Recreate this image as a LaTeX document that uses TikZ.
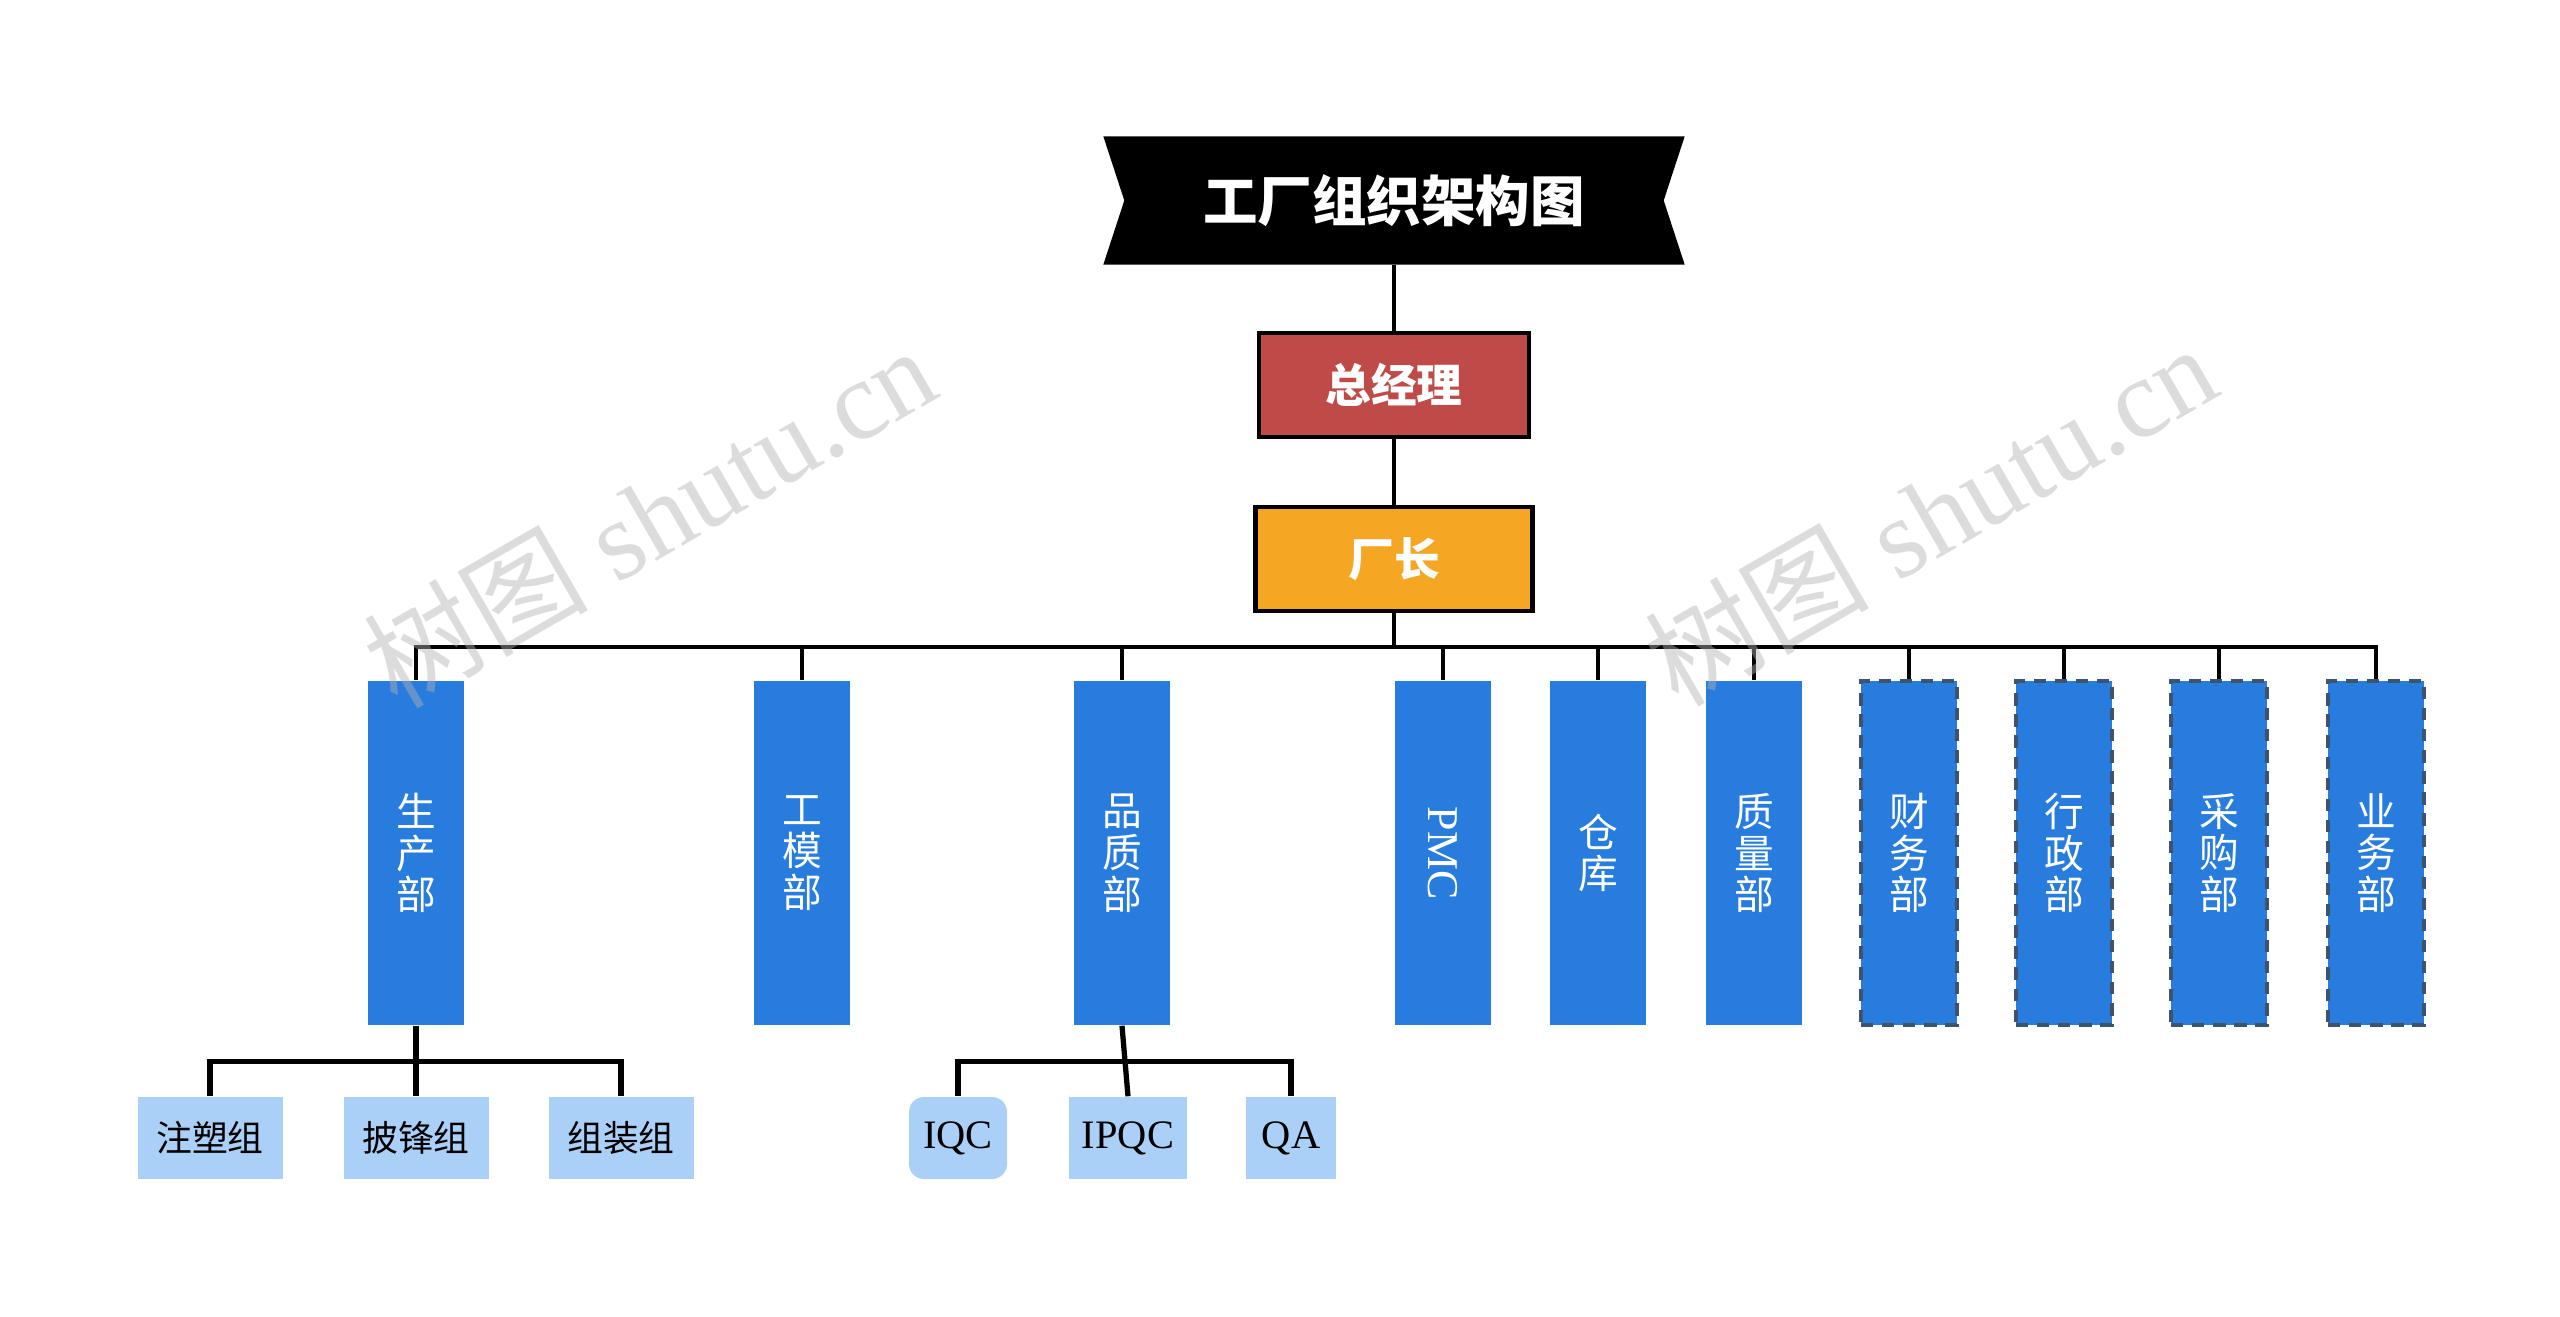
\documentclass[tikz,border=0pt]{standalone}
\usepackage{fontspec}
\usepackage{xcolor}
\usepackage{graphicx}
\usepackage{tikz}
\setmainfont{Liberation Serif}
\newfontfamily\cjk{Noto Sans CJK SC}
\usetikzlibrary{positioning,calc,backgrounds}
\definecolor{deptblue}{RGB}{40,124,222}
\definecolor{subblue}{RGB}{171,208,248}
\definecolor{gmred}{RGB}{190,75,72}
\definecolor{fmorange}{RGB}{245,167,35}
\definecolor{dashgray}{RGB}{62,84,110}

\begin{document}
\begin{tikzpicture}[
  line/.style={line width=1.2pt},
  subline/.style={line width=1.5pt},
  boss/.style={draw=black, line width=1.3pt, minimum height=1.04cm, text=white, font=\cjk\bfseries\fontsize{13}{15}\selectfont},
  dept/.style={fill=deptblue, minimum width=0.96cm, minimum height=3.44cm, inner sep=0pt, text=white, align=center, font=\cjk\fontsize{11.3}{11.9}\selectfont},
  dashdept/.style={dept, draw=dashgray, line width=1.3pt, dash pattern=on 3.5pt off 2.5pt},
  sub/.style={fill=subblue, minimum height=0.82cm, inner sep=0pt, font=\cjk\fontsize{10.2}{12}\selectfont},
  latin/.style={font=\rmfamily\fontsize{11.5}{13}\selectfont},
  wmark/.style={text=gray!60, opacity=0.45, rotate=30, font=\fontsize{32}{36}\selectfont}]
  \useasboundingbox (0,0) rectangle (25.6,-13.17);
  % Title banner
  \node[minimum width=5.8cm, minimum height=1.27cm, text=white, font=\cjk\bfseries\fontsize{15.5}{18}\selectfont] (title) at (13.94,-2.005) {工厂组织架构图};
  \begin{scope}[on background layer]
    \fill[white] (0,0) rectangle (25.6,-13.17);
    \fill[black] (title.north west) -- (title.north east) -- ([xshift=-0.21cm]title.east)
      -- (title.south east) -- (title.south west) -- ([xshift=0.21cm]title.west) -- cycle;
  \end{scope}
  % Top management
  \node[boss, fill=gmred, minimum width=2.70cm] (gm) at (13.94,-3.85) {总经理};
  \node[boss, fill=fmorange, minimum width=2.77cm] (fm) at (13.94,-5.59) {厂长};
  \draw[line] (title.south) -- (gm.north);
  \draw[line] (gm.south) -- (fm.north);
  % Departments
  \node[dept] (scb) at (4.16,-8.53) {生\\产\\部};
  \node[dept] (gmb) at (8.02,-8.53) {工\\模\\部};
  \node[dept] (pzb) at (11.22,-8.53) {品\\质\\部};
  \node[dept, font=\rmfamily\fontsize{12.5}{14}\selectfont] (pmc) at (14.43,-8.53) {\rotatebox{-90}{PMC}};
  \node[dept] (ck) at (15.98,-8.53) {仓\\库};
  \node[dept] (zlb) at (17.54,-8.53) {质\\量\\部};
  \node[dashdept] (cwb) at (19.09,-8.53) {财\\务\\部};
  \node[dashdept] (xzb) at (20.64,-8.53) {行\\政\\部};
  \node[dashdept] (cgb) at (22.19,-8.53) {采\\购\\部};
  \node[dashdept] (ywb) at (23.76,-8.53) {业\\务\\部};
  \coordinate[below=0.34cm of fm] (bus);
  \draw[line] (fm.south) -- (bus);
  \foreach \d in {scb,gmb,pzb,pmc,ck,zlb,cwb,xzb,cgb,ywb} {
    \draw[line] (bus) -| (\d.north);
  }
  % Groups under 生产部
  \node[sub, minimum width=1.45cm] (zs) at (2.10,-11.38) {注塑组};
  \node[sub, minimum width=1.45cm] (pf) at (4.16,-11.38) {披锋组};
  \node[sub, minimum width=1.45cm] (zz) at (6.21,-11.38) {组装组};
  \coordinate[below=0.36cm of scb] (scbus);
  \draw[subline] (scb.south) -- (scbus);
  \foreach \s in {zs,pf,zz} {
    \draw[subline] (scbus) -| (\s.north);
  }
  % Groups under 品质部
  \node[sub, latin, minimum width=0.98cm, rounded corners=0.15cm] (iqc) at (9.58,-11.38) {IQC};
  \node[sub, latin, minimum width=1.18cm] (ipqc) at (11.28,-11.38) {IPQC};
  \node[sub, latin, minimum width=0.90cm] (qa) at (12.91,-11.38) {QA};
  \coordinate[below=0.36cm of pzb] (pzbus);
  \draw[subline] (pzbus) -| (iqc.north);
  \draw[subline] (pzbus) -| (qa.north);
  \draw[subline] (pzb.south) -- (ipqc.north);
  % Watermarks
  \node[wmark] (wm1) at (6.49,-5.16) {{\cjk 树图} shutu.cn};
  \node[wmark] (wm2) at (19.30,-5.14) {{\cjk 树图} shutu.cn};
\end{tikzpicture}
\end{document}
